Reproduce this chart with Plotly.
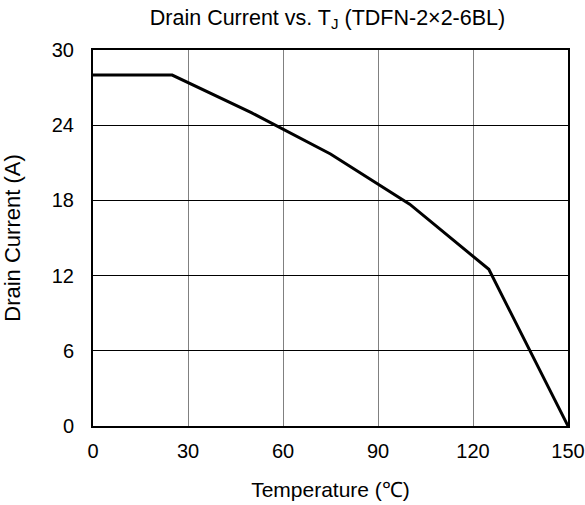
import plotly.graph_objects as go

temperature = [0, 25, 50, 75, 100, 125, 150]
drain_current = [28, 28, 25, 21.7, 17.7, 12.5, 0]
x_ticks = [0, 30, 60, 90, 120, 150]
y_ticks = [0, 6, 12, 18, 24, 30]

fig = go.Figure()
fig.add_trace(go.Scatter(x=temperature, y=drain_current, mode="lines",
                         line=dict(color="black", width=3), showlegend=False))

font = "Arial, Liberation Sans, sans-serif"
fig.update_layout(
    width=585, height=505,
    margin=dict(l=93, r=17, t=50, b=79, autoexpand=False),
    plot_bgcolor="white", paper_bgcolor="white",
    font=dict(family=font, color="black", size=20),
    title=dict(text="Drain Current vs. T<sub>J</sub> (TDFN-2×2-6BL)",
               font=dict(size=21.5, family=font, color="black"),
               x=327.5 / 585, xanchor="center", y=1 - 17 / 505, yanchor="middle"),
    xaxis=dict(range=[0, 150], tickvals=x_ticks, showgrid=True,
               gridcolor="#808080", gridwidth=1,
               showline=True, linecolor="black", linewidth=2, mirror=True,
               ticks="", ticklabelstandoff=6, zeroline=False, automargin=False,
               title=dict(text="Temperature (℃)", font=dict(size=21), standoff=21)),
    yaxis=dict(range=[0, 30], tickvals=y_ticks, showgrid=True,
               gridcolor="black", gridwidth=1,
               showline=True, linecolor="black", linewidth=2, mirror=True,
               ticks="", ticklabelstandoff=13, zeroline=False, automargin=False,
               title=dict(text="Drain Current (A)", font=dict(size=22), standoff=27)),
)

fig.write_html("out.html", post_script="document.body.style.margin='0px';",
               config={"displayModeBar": False})
